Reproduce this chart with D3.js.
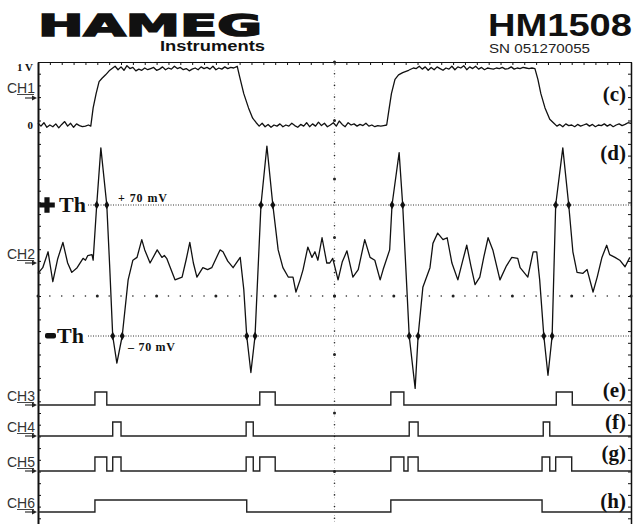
<!DOCTYPE html>
<html><head><meta charset="utf-8">
<script src="https://cdn.jsdelivr.net/npm/d3@7"></script>
<style>html,body{margin:0;padding:0;background:#fff;overflow:hidden}</style>
</head><body>
<svg id="c" width="633" height="524"></svg>
<script>
// ---------------- DATA ----------------
// time in screen divisions (0..10), CH1 in volts
const ch1Points = [
[0.00,0.03],[0.05,-0.02],[0.10,0.04],[0.15,-0.04],[0.20,0.00],[0.25,-0.03],[0.30,0.02],[0.35,-0.05],[0.40,0.01],[0.45,0.06],
[0.50,-0.02],[0.55,0.03],[0.60,-0.04],[0.65,0.02],[0.70,-0.01],[0.75,-0.03],[0.80,-0.02],[0.85,0.00],[0.89,-0.02],
[0.93,0.30],[0.98,0.55],[1.03,0.76],[1.08,0.82],[1.14,0.88],[1.20,0.95],
[1.25,0.99],[1.30,1.03],[1.35,0.97],[1.40,1.02],[1.45,0.96],[1.50,1.04],[1.55,0.99],[1.60,1.01],[1.65,0.95],[1.70,0.98],
[1.75,0.96],[1.80,1.00],[1.85,0.97],[1.90,0.99],[1.95,1.01],[2.00,0.96],[2.05,0.98],[2.10,1.02],[2.15,0.97],[2.20,1.00],
[2.25,0.98],[2.30,1.03],[2.35,0.99],[2.40,1.01],[2.45,0.97],[2.50,0.99],[2.55,0.95],[2.60,0.98],[2.65,1.00],[2.70,0.97],
[2.75,1.02],[2.80,0.99],[2.85,1.01],[2.90,0.98],[2.95,1.03],[3.00,0.97],[3.05,1.00],[3.10,0.98],[3.15,1.02],[3.20,0.99],
[3.25,1.01],[3.30,1.00],[3.36,1.03],
[3.40,0.85],[3.47,0.55],[3.55,0.30],[3.62,0.12],[3.68,0.04],
[3.73,-0.02],[3.78,0.03],[3.83,-0.03],[3.88,0.01],[3.93,-0.04],[3.98,0.00],[4.03,-0.02],[4.08,0.02],[4.13,-0.03],[4.18,0.00],
[4.23,-0.02],[4.28,0.03],[4.33,-0.01],[4.38,-0.04],[4.43,0.01],[4.48,-0.02],[4.53,0.04],[4.58,-0.03],[4.63,0.02],[4.68,-0.02],
[4.73,0.05],[4.78,-0.01],[4.83,0.03],[4.88,-0.03],[4.93,0.00],[4.98,0.04],[5.03,-0.02],[5.08,0.07],[5.13,0.01],[5.18,-0.03],
[5.23,0.04],[5.28,0.00],[5.33,0.02],[5.38,-0.02],[5.43,0.01],[5.48,-0.01],[5.53,0.03],[5.58,-0.02],[5.63,0.00],[5.68,-0.03],
[5.73,-0.01],[5.78,-0.02],[5.83,-0.01],[5.88,0.00],
[5.92,0.28],[5.96,0.55],[6.02,0.80],[6.08,0.88],[6.15,0.92],[6.25,0.96],[6.33,1.00],
[6.38,0.99],[6.43,1.03],[6.48,0.98],[6.53,1.02],[6.58,0.96],[6.63,1.01],[6.68,0.97],[6.73,1.02],[6.78,0.99],[6.83,0.96],
[6.88,1.00],[6.93,0.98],[6.98,1.03],[7.03,0.97],[7.08,1.02],[7.13,1.00],[7.18,1.04],[7.23,0.97],[7.28,1.02],[7.33,0.99],
[7.38,1.03],[7.43,0.98],[7.48,1.01],[7.53,0.97],[7.58,1.00],[7.63,0.99],[7.68,0.98],[7.73,1.00],[7.78,0.99],[7.83,1.01],
[7.88,0.98],[7.93,0.99],[7.98,1.02],[8.03,0.98],[8.08,1.00],[8.13,0.99],[8.18,1.01],[8.23,1.00],[8.28,0.99],[8.33,1.00],[8.38,0.99],
[8.43,0.80],[8.48,0.55],[8.55,0.30],[8.63,0.10],[8.70,0.03],
[8.75,-0.02],[8.80,0.01],[8.85,-0.03],[8.90,0.02],[8.95,-0.01],[9.00,0.00],[9.05,-0.03],[9.10,0.01],[9.15,-0.02],[9.20,0.00],
[9.25,0.02],[9.30,-0.02],[9.35,0.01],[9.40,-0.03],[9.45,0.00],[9.50,-0.01],[9.55,0.02],[9.60,-0.02],[9.65,0.01],[9.70,-0.03],
[9.75,0.00],[9.80,0.02],[9.85,-0.01],[9.90,0.01],[9.95,0.04],[10.0,0.03]
];
// CH2 in millivolts
const ch2Points = [
[0.00,-3],[0.08,3],[0.17,20],[0.21,4],[0.25,-12],[0.33,12],[0.42,30],[0.50,8],[0.57,-2],[0.66,3],[0.76,13],[0.80,11],[0.84,16],[0.91,17],[0.93,11],[0.99,70],[1.06,131],[1.16,70],[1.21,3],[1.26,-70],[1.33,-99],[1.42,-70],[1.52,-10],[1.60,11],[1.67,14],[1.75,33],[1.80,22],[1.89,8],[2.01,22],[2.09,14],[2.13,16],[2.17,13],[2.31,-10],[2.43,-7],[2.50,12],[2.56,30],[2.62,8],[2.68,-7],[2.78,3],[2.86,1],[2.93,3],[3.07,22],[3.12,20],[3.20,10],[3.29,3],[3.41,14],[3.47,-20],[3.52,-70],[3.59,-109],[3.66,-70],[3.76,70],[3.86,133],[3.96,70],[4.05,22],[4.13,3],[4.22,-7],[4.30,-7],[4.35,-23],[4.42,-10],[4.47,1],[4.55,25],[4.62,14],[4.67,20],[4.72,11],[4.79,35],[4.87,8],[4.92,8],[4.97,13],[5.06,-10],[5.13,9],[5.21,21],[5.31,-7],[5.40,1],[5.51,33],[5.60,14],[5.68,11],[5.77,-10],[5.82,1],[5.93,22],[5.97,70],[6.09,126],[6.15,70],[6.26,-70],[6.36,-126],[6.41,-70],[6.49,-18],[6.61,3],[6.66,29],[6.74,40],[6.83,33],[6.90,35],[6.98,8],[7.08,-10],[7.16,10],[7.23,27],[7.30,5],[7.37,-15],[7.45,-7],[7.52,15],[7.59,35],[7.67,22],[7.79,-10],[7.90,5],[7.99,14],[8.09,13],[8.13,3],[8.26,-7],[8.35,20],[8.41,20],[8.46,-10],[8.53,-70],[8.60,-112],[8.67,-70],[8.73,70],[8.85,131],[8.95,70],[9.02,20],[9.09,-2],[9.19,-3],[9.26,1],[9.36,-23],[9.43,-7],[9.51,14],[9.59,27],[9.64,17],[9.73,14],[9.81,11],[9.90,4],[9.98,14]
];
const thresholdMv = 70;
const plusCrossings = [0.99,1.16,3.76,3.96,5.97,6.15,8.73,8.95];
const minusCrossings = [1.26,1.42,3.52,3.66,6.26,6.41,8.53,8.67];
const ch3Pulses = [[0.96,1.16],[3.74,4.00],[5.95,6.17],[8.74,9.01]];
const ch4Pulses = [[1.26,1.40],[3.51,3.63],[6.26,6.41],[8.52,8.63]];
const ch5Pulses = [[0.96,1.16],[1.26,1.40],[3.51,3.63],[3.74,4.00],[5.95,6.17],[6.24,6.41],[8.50,8.63],[8.73,9.00]];
const ch6Pulses = [[0.96,3.52],[5.95,8.50]];
const channelNames = ["CH1","CH2","CH3","CH4","CH5","CH6"];
const panelLetters = ["(c)","(d)","(e)","(f)","(g)","(h)"];
const ch1TickLabels = ["1 V","0"];
const thLabels = ["+ 70 mV","\u2013 70 mV"];
const brand = "HAMEG", brandSub = "Instruments", model = "HM1508", serial = "SN 051270055";

// ---------------- DRAWING ----------------
(function(){
const svg = d3.select("#c");
const L=38, R=631, T=62, B=530;
const x = d3.scaleLinear([0,10],[L,R]);
const gy = d3.scaleLinear([-4,4],[B,T]);
const y1 = d3.scaleLinear([0,1],[125,68]);
const y2 = d3.scaleLinear([-thresholdMv,thresholdMv],[336,205]);
const serif = "'Liberation Serif','Times New Roman',serif";
const sans = "'Liberation Sans',Arial,sans-serif";
const ink = "#111";

// header
svg.append("text").attr("x",38).attr("y",36).attr("font-family","'DejaVu Sans',sans-serif").attr("font-weight","bold")
  .attr("font-size",31).attr("textLength",224).attr("lengthAdjust","spacingAndGlyphs").attr("fill",ink)
  .attr("stroke",ink).attr("stroke-width",1.6).text(brand);
svg.append("text").attr("x",160).attr("y",51).attr("font-family","'Liberation Sans Narrow','Arial Narrow',sans-serif").attr("font-weight","bold")
  .attr("font-size",15).attr("textLength",105).attr("lengthAdjust","spacingAndGlyphs").attr("fill",ink).text(brandSub);
svg.append("text").attr("x",488).attr("y",36).attr("font-family",sans).attr("font-weight","bold")
  .attr("font-size",32).attr("textLength",144).attr("lengthAdjust","spacingAndGlyphs").attr("fill",ink).text(model);
svg.append("text").attr("x",489).attr("y",53).attr("font-family",sans)
  .attr("font-size",12.5).attr("textLength",101).attr("lengthAdjust","spacingAndGlyphs").attr("fill","#222").text(serial);

// frame axes
const minorT = d3.range(0,51).map(i=>i/5);
const minorV = d3.range(-20,21).map(i=>i/5);
const axTop = svg.append("g").attr("transform",`translate(0,${T})`)
  .call(d3.axisBottom(x).tickValues(minorT).tickSize(3).tickSizeOuter(0).tickFormat(""));
const axLeft = svg.append("g").attr("transform",`translate(${L},0)`)
  .call(d3.axisRight(gy).tickValues(minorV).tickSize(3).tickSizeOuter(0).tickFormat(""));
const axRight = svg.append("g").attr("transform",`translate(${R},0)`)
  .call(d3.axisLeft(gy).tickValues(minorV).tickSize(3).tickSizeOuter(0).tickFormat(""));
[axTop,axLeft,axRight].forEach(g=>{g.selectAll("path,line").attr("stroke",ink);});
axLeft.select(".domain").attr("stroke-width",2);
axRight.select(".domain").attr("stroke-width",1.5);

// center crosshair dots
const cross = svg.append("g").attr("fill","#222");
cross.selectAll("circle.h").data(minorT).join("circle").attr("class","h")
  .attr("cx",d=>x(d)).attr("cy",gy(0)).attr("r",d=>Math.abs(d-Math.round(d))<1e-6?1.5:0.8);
cross.selectAll("circle.v").data(minorV).join("circle").attr("class","v")
  .attr("cx",x(5)).attr("cy",d=>gy(d)).attr("r",d=>Math.abs(d-Math.round(d))<1e-6?1.5:0.8);
cross.selectAll("circle.v2").data(d3.range(-40,40).map(i=>i/10+0.05)).join("circle").attr("class","v2")
  .attr("cx",x(5)).attr("cy",d=>gy(d)).attr("r",0.5).attr("fill","#999");

// threshold lines
[thresholdMv,-thresholdMv].forEach(v=>{
  svg.append("line").attr("x1",88).attr("x2",R).attr("y1",y2(v)).attr("y2",y2(v))
    .attr("stroke","#333").attr("stroke-width",1).attr("stroke-dasharray","1,1.5");
});

// CH1 trace
svg.append("path").datum(ch1Points).attr("fill","none").attr("stroke",ink).attr("stroke-width",1.3)
  .attr("stroke-linejoin","round")
  .attr("d",d3.line().x(d=>x(d[0])).y(d=>y1(d[1])));
// CH2 trace
svg.append("path").datum(ch2Points).attr("fill","none").attr("stroke",ink).attr("stroke-width",1.3)
  .attr("stroke-linejoin","round")
  .attr("d",d3.line().x(d=>x(d[0])).y(d=>y2(d[1])));
// crossing markers
const dia = d3.symbol(d3.symbolDiamond,22);
svg.selectAll("path.pc").data(plusCrossings).join("path").attr("class","pc").attr("d",dia)
  .attr("transform",d=>`translate(${x(d)},${y2(thresholdMv)})`).attr("fill",ink);
svg.selectAll("path.mc").data(minusCrossings).join("path").attr("class","mc").attr("d",dia)
  .attr("transform",d=>`translate(${x(d)},${y2(-thresholdMv)})`).attr("fill",ink);

// digital channels
const digital = [
  {pulses:ch3Pulses, base:405, high:392},
  {pulses:ch4Pulses, base:436, high:422},
  {pulses:ch5Pulses, base:471, high:457},
  {pulses:ch6Pulses, base:512, high:500}
];
digital.forEach(ch=>{
  const pts=[[0,0]];
  ch.pulses.forEach(p=>{pts.push([p[0],0],[p[0],1],[p[1],1],[p[1],0]);});
  pts.push([10,0]);
  const yd = d3.scaleLinear([0,1],[ch.base,ch.high]);
  svg.append("path").datum(pts).attr("fill","none").attr("stroke","#222").attr("stroke-width",1.4)
    .attr("d",d3.line().x(d=>x(d[0])).y(d=>yd(d[1])));
});

// channel labels with arrows
const labelPos = [[93,98],[259,263],[401,405],[432,436],[467,471],[508,512]];
channelNames.forEach((n,i)=>{
  const [by,ay]=labelPos[i];
  svg.append("text").attr("x",7).attr("y",by).attr("font-family",sans).attr("font-size",14)
    .attr("fill","#333").text(n);
  svg.append("line").attr("x1",17).attr("x2",34).attr("y1",by+1.5).attr("y2",by+1.5).attr("stroke","#444").attr("stroke-width",1);
  svg.append("line").attr("x1",25).attr("x2",33).attr("y1",ay).attr("y2",ay).attr("stroke","#333").attr("stroke-width",1.2);
  svg.append("path").attr("d",`M37,${ay} L32,${ay-2.5} L32,${ay+2.5} Z`).attr("fill","#222");
});

// CH1 level labels
svg.append("text").attr("x",33).attr("y",71).attr("text-anchor","end").attr("font-family",serif).attr("font-weight","bold")
  .attr("font-size",11).attr("fill",ink).text(ch1TickLabels[0]);
svg.append("text").attr("x",33).attr("y",129).attr("text-anchor","end").attr("font-family",serif).attr("font-weight","bold")
  .attr("font-size",11).attr("fill",ink).text(ch1TickLabels[1]);

// threshold labels
svg.append("path").attr("d",d3.symbol(d3.symbolCross,135)).attr("transform",`translate(47,${y2(thresholdMv)})`).attr("fill",ink);
svg.append("text").attr("x",59).attr("y",212).attr("font-family",serif).attr("font-weight","bold").attr("font-size",22).attr("fill",ink).text("Th");
svg.append("rect").attr("x",45).attr("y",y2(-thresholdMv)-3).attr("width",11).attr("height",5.5).attr("rx",2).attr("fill",ink);
svg.append("text").attr("x",57).attr("y",343).attr("font-family",serif).attr("font-weight","bold").attr("font-size",22).attr("fill",ink).text("Th");
svg.append("text").attr("x",118).attr("y",202).attr("font-family",serif).attr("font-weight","bold").attr("font-size",12)
  .attr("textLength",49).attr("fill",ink).text(thLabels[0]);
svg.append("text").attr("x",128).attr("y",351).attr("font-family",serif).attr("font-weight","bold").attr("font-size",12)
  .attr("textLength",47).attr("fill",ink).text(thLabels[1]);

// panel letters
const letterY = [101,160,397,429,460,508];
panelLetters.forEach((p,i)=>{
  svg.append("text").attr("x",626).attr("y",letterY[i]).attr("text-anchor","end").attr("font-family",serif)
    .attr("font-weight","bold").attr("font-size",21).attr("fill",ink).text(p);
});
})();
</script>
</body></html>
